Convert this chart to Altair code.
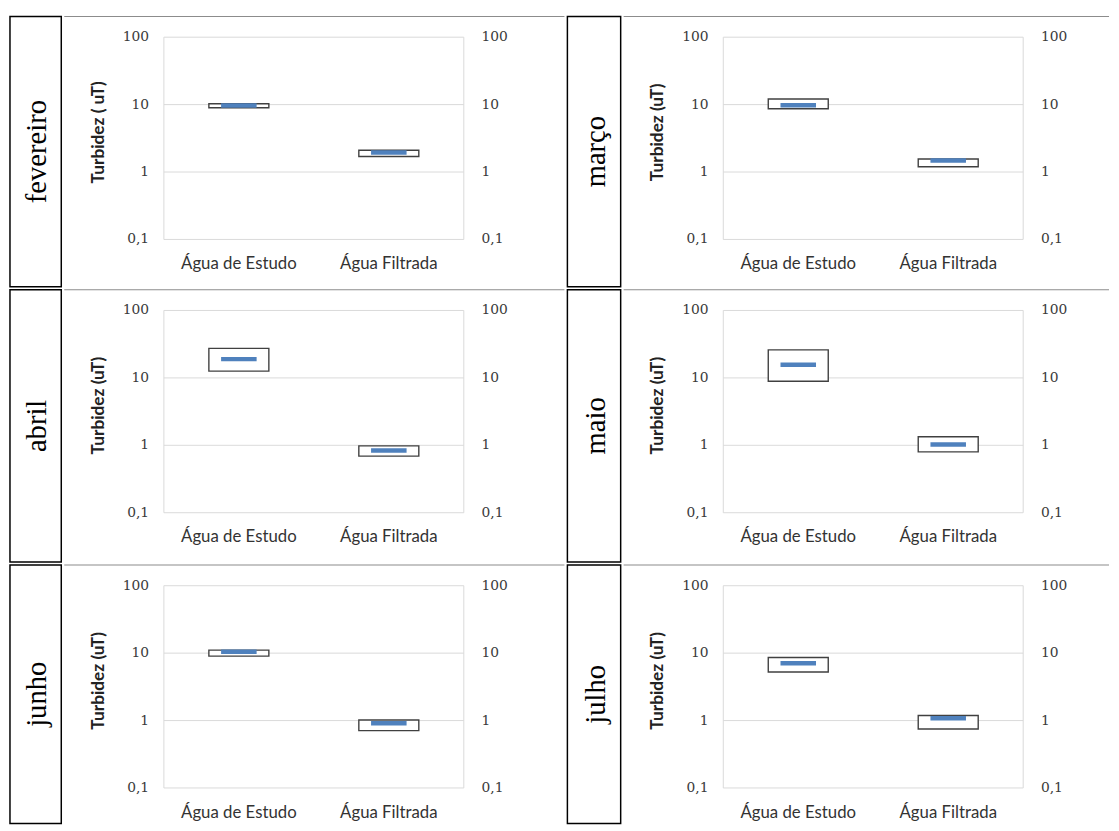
import altair as alt
import pandas as pd

# ---------------- data ----------------
months = ["fevereiro", "março", "abril", "maio", "junho", "julho"]
categories = ["Água de Estudo", "Água Filtrada"]
y_titles = ["Turbidez ( uT)", "Turbidez (uT)", "Turbidez (uT)",
            "Turbidez (uT)", "Turbidez (uT)", "Turbidez (uT)"]
# box bottom / top and median for [Água de Estudo, Água Filtrada]
box_low = [[9.0, 1.7], [8.7, 1.2], [12.6, 0.69], [8.9, 0.80], [9.05, 0.71], [5.25, 0.75]]
box_high = [[10.3, 2.1], [12.1, 1.56], [27.4, 0.98], [26.0, 1.34], [11.1, 1.02], [8.6, 1.19]]
medians = [[9.7, 1.95], [9.8, 1.48], [19.0, 0.84], [15.7, 1.03], [10.5, 0.91], [7.1, 1.08]]
tick_values = [0.1, 1, 10, 100]
tick_labels = ["0,1", "1", "10", "100"]

# ---------------- layout ----------------
LABEL_W = [52, 54]
PLOT_W = [507, 492]
ROW_H = [274, 276, 262]
PPU = 152.0          # pixels per category unit
X0_PX = 101.0        # plot-area left edge inside its cell
TOP = 21.0           # pixels from cell top to the 100 line
SPAN = 205.0         # pixels from 100 to 0.1
PPD = SPAN / 3.0

BLUE = "#4f81bd"
GRID = "#d9d9d9"
SERIF_TICK = "DejaVu Serif"
SANS = "Lato"

n_cat = len(categories)


def plot_cell(i, width, height):
    xmin = -X0_PX / PPU
    xmax = xmin + width / PPU
    ylo = 10 ** (-1 - (height - TOP - SPAN) / PPD)
    yhi = 10 ** (2 + TOP / PPD)
    xs = alt.Scale(domain=[xmin, xmax], nice=False, zero=False)
    ys = alt.Scale(type="log", domain=[ylo, yhi], nice=False)

    df = pd.DataFrame({
        "cat": categories,
        "idx": list(range(n_cat)),
        "lo": box_low[i],
        "hi": box_high[i],
        "med": medians[i],
    })
    gdf = pd.DataFrame({"v": tick_values, "lab": tick_labels})

    grid = alt.Chart(gdf).transform_calculate(
        xa="0", xb=str(n_cat)
    ).mark_rule(color=GRID, strokeWidth=1).encode(
        x=alt.X("xa:Q", scale=xs, axis=None),
        x2="xb:Q",
        y=alt.Y("v:Q", scale=ys, axis=None),
    )

    edges = alt.Chart(pd.DataFrame({"e": [0, n_cat],
                                    "ya": [min(tick_values)] * 2,
                                    "yb": [max(tick_values)] * 2})).mark_rule(
        color=GRID, strokeWidth=1
    ).encode(
        x=alt.X("e:Q", scale=xs, axis=None),
        y=alt.Y("ya:Q", scale=ys, axis=None),
        y2="yb:Q",
    )

    left_labels = alt.Chart(gdf).transform_calculate(xa="0").mark_text(
        align="right", baseline="middle", dx=-15, font=SERIF_TICK,
        fontSize=14, color="#3a3a3a"
    ).encode(
        x=alt.X("xa:Q", scale=xs, axis=None),
        y=alt.Y("v:Q", scale=ys, axis=None),
        text="lab:N",
    )
    right_labels = alt.Chart(gdf).transform_calculate(xb=str(n_cat)).mark_text(
        align="left", baseline="middle", dx=18, font=SERIF_TICK,
        fontSize=14, color="#3a3a3a"
    ).encode(
        x=alt.X("xb:Q", scale=xs, axis=None),
        y=alt.Y("v:Q", scale=ys, axis=None),
        text="lab:N",
    )

    base = alt.Chart(df).transform_calculate(
        pos="datum.idx + 0.5",
        bx1="datum.idx + 0.3",
        bx2="datum.idx + 0.7",
        ybase=str(min(tick_values)),
    )

    boxes = base.mark_rect(fill="white", stroke="#404040", strokeWidth=1.4).encode(
        x=alt.X("bx1:Q", scale=xs, axis=None),
        x2="bx2:Q",
        y=alt.Y("lo:Q", scale=ys, axis=None),
        y2="hi:Q",
    )
    meds = base.mark_tick(orient="horizontal", size=36, thickness=4.5,
                          color=BLUE, opacity=1).encode(
        x=alt.X("pos:Q", scale=xs, axis=None),
        y=alt.Y("med:Q", scale=ys, axis=None),
    )
    cat_labels = base.mark_text(
        baseline="middle", align="center", dy=25, font=SANS, fontSize=17,
        color="#333333"
    ).encode(
        x=alt.X("pos:Q", scale=xs, axis=None),
        y=alt.Y("ybase:Q", scale=ys, axis=None),
        text="cat:N",
    )

    ytitle = alt.Chart(pd.DataFrame({"t": [y_titles[i]]})).mark_text(
        angle=270, align="center", baseline="middle", font=SANS,
        fontWeight="bold", fontSize=17.5, color="#222222"
    ).encode(x=alt.value(35), y=alt.value(TOP + SPAN / 2 - 6), text="t:N")

    layers = [grid, edges, left_labels, right_labels, boxes, meds, cat_labels, ytitle]

    top_border = alt.Chart(pd.DataFrame({"b": [0]})).mark_rule(
        color="#8c8c8c", strokeWidth=1.2
    ).encode(x=alt.value(0), x2=alt.value(width), y=alt.value(0))
    layers.append(top_border)

    return alt.layer(*layers).properties(width=width, height=height)


def label_cell(i, width, height):
    return alt.Chart(pd.DataFrame({"m": [months[i]]})).mark_text(
        angle=270, align="center", baseline="middle",
        font="Liberation Serif", fontSize=29, color="black"
    ).encode(
        x=alt.value(width / 2 + 2), y=alt.value(height / 2), text="m:N"
    ).properties(
        width=width, height=height,
        view=alt.ViewBackground(stroke="black", strokeWidth=1.5)
    )


rows = []
for r in range(3):
    h = ROW_H[r]
    cells = []
    for c in range(2):
        i = r * 2 + c
        cells.append(label_cell(i, LABEL_W[c], h))
        cells.append(plot_cell(i, PLOT_W[c], h))
    rows.append(alt.hconcat(*cells, spacing=0))

chart = alt.vconcat(*rows, spacing=0).properties(
    padding={"left": 1, "top": 1, "right": 0, "bottom": 0}
).configure_view(stroke="transparent").configure_concat(spacing=0)

chart.save("out.html", embed_options={"renderer": "svg", "actions": False})
